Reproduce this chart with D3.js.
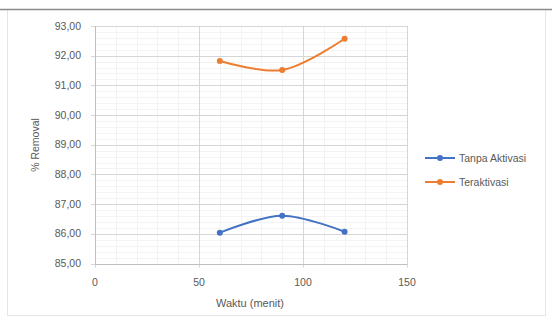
<!DOCTYPE html>
<html>
<head>
<style>
  body, html { margin: 0; padding: 0; background: #fff; }
  text { font-family: "Liberation Sans", Arial, sans-serif; fill: #595959; }
</style>
</head>
<body>
<svg id="svg" width="552" height="324"></svg>
<script src="https://d3js.org/d3.v7.min.js"></script>
<script>
// data
const waktu = [60, 90, 120]
const tanpaAktivasi = [86.04, 86.61, 86.07]
const teraktivasi = [91.82, 91.52, 92.57]
const seriesNames = ['Tanpa Aktivasi', 'Teraktivasi']
const seriesColors = ['#4472C4', '#ED7D31']
const xTicks = [0, 50, 100, 150]
const yTicks = [85, 86, 87, 88, 89, 90, 91, 92, 93]

const svg = d3.select('#svg')

// chart frame
svg.append('rect').attr('x', 7.5).attr('y', 9.5).attr('width', 538).attr('height', 306)
  .attr('fill', '#fff').attr('stroke', '#e6e6e6')
svg.append('line').attr('x1', 0).attr('x2', 552).attr('y1', 9.5).attr('y2', 9.5)
  .attr('stroke', '#8c8c8c').attr('stroke-width', 1.5)

const x = d3.scaleLinear().domain([0, 150]).range([95, 407])
const y = d3.scaleLinear().domain([85, 93]).range([263.5, 26])

// minor gridlines
const g = svg.append('g')
g.selectAll('.mx').data(d3.range(0, 151, 10)).join('line')
  .attr('x1', d => Math.round(x(d)) + 0.5).attr('x2', d => Math.round(x(d)) + 0.5)
  .attr('y1', y(93)).attr('y2', y(85)).attr('stroke', '#f3f3f3')
g.selectAll('.my').data(d3.range(85, 93.01, 0.2)).join('line')
  .attr('x1', x(0)).attr('x2', x(150))
  .attr('y1', d => Math.round(y(d)) + 0.5).attr('y2', d => Math.round(y(d)) + 0.5)
  .attr('stroke', '#f3f3f3')

// major gridlines
g.selectAll('.gx').data(xTicks).join('line')
  .attr('x1', d => Math.round(x(d)) + 0.5).attr('x2', d => Math.round(x(d)) + 0.5)
  .attr('y1', y(93)).attr('y2', y(85) + 4).attr('stroke', '#d6d6d6')
g.selectAll('.gy').data(yTicks).join('line')
  .attr('x1', x(0) - 4).attr('x2', x(150))
  .attr('y1', d => Math.round(y(d)) + 0.5).attr('y2', d => Math.round(y(d)) + 0.5)
  .attr('stroke', '#d6d6d6')

// axes lines
svg.append('line').attr('x1', Math.round(x(0)) + 0.5).attr('x2', Math.round(x(0)) + 0.5)
  .attr('y1', y(93)).attr('y2', y(85)).attr('stroke', '#bfbfbf')
svg.append('line').attr('x1', x(0)).attr('x2', x(150))
  .attr('y1', Math.round(y(85)) + 0.5).attr('y2', Math.round(y(85)) + 0.5).attr('stroke', '#bfbfbf')

// tick labels
svg.selectAll('.yl').data(yTicks).join('text')
  .attr('x', 81).attr('y', d => y(d) + 3.5)
  .attr('text-anchor', 'end').attr('font-size', 10.5)
  .text(d => d.toFixed(2).replace('.', ','))
svg.selectAll('.xl').data(xTicks).join('text')
  .attr('x', d => x(d)).attr('y', 286)
  .attr('text-anchor', 'middle').attr('font-size', 10.5)
  .text(d => d)

// axis titles
svg.append('text').attr('transform', 'translate(39,145) rotate(-90)')
  .attr('text-anchor', 'middle').attr('font-size', 10.5).text('% Removal')
svg.append('text').attr('x', 250).attr('y', 307)
  .attr('text-anchor', 'middle').attr('font-size', 11).text('Waktu (menit)')

// series
const allSeries = [tanpaAktivasi, teraktivasi]
const linegen = d3.line()
  .x((d, i) => x(waktu[i]))
  .y(d => y(d))
  .curve(d3.curveCatmullRom.alpha(0.5))

allSeries.forEach((vals, s) => {
  svg.append('path').attr('d', linegen(vals))
    .attr('fill', 'none').attr('stroke', seriesColors[s]).attr('stroke-width', 2)
  svg.selectAll('.p' + s).data(vals).join('circle')
    .attr('cx', (d, i) => x(waktu[i])).attr('cy', d => y(d)).attr('r', 3)
    .attr('fill', seriesColors[s])
})

// legend
seriesNames.forEach((name, s) => {
  const ly = 158 + s * 24
  svg.append('line').attr('x1', 425).attr('x2', 455).attr('y1', ly).attr('y2', ly)
    .attr('stroke', seriesColors[s]).attr('stroke-width', 2)
  svg.append('circle').attr('cx', 440).attr('cy', ly).attr('r', 3).attr('fill', seriesColors[s])
  svg.append('text').attr('x', 459).attr('y', ly + 3.5).attr('font-size', 10.5).text(name)
})
</script>
</body>
</html>
